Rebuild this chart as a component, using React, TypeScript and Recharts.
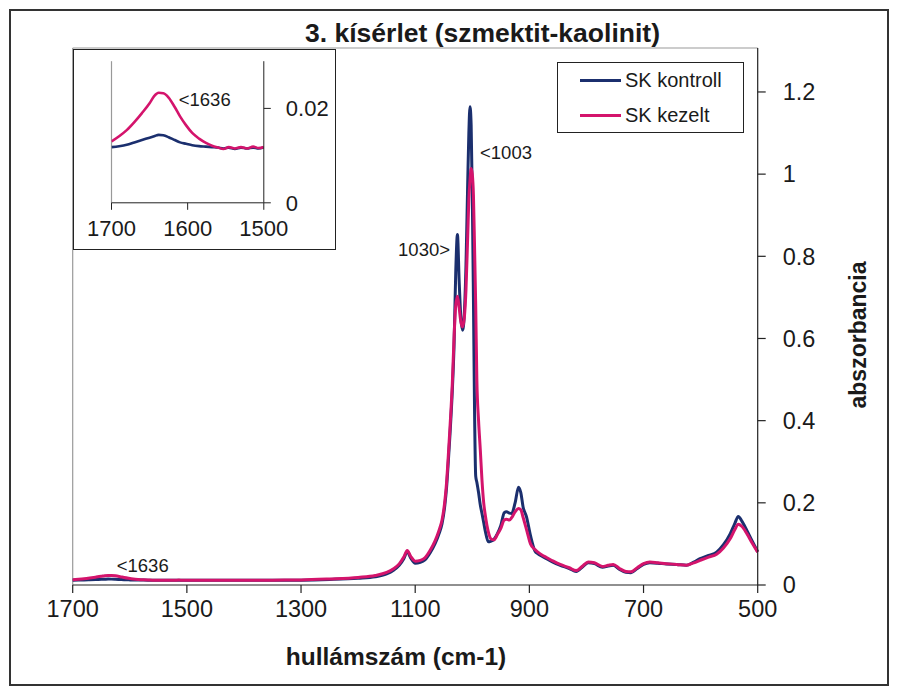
import React from "react";
import {
  LineChart,
  Line,
  XAxis,
  YAxis,
  Legend,
  ReferenceLine,
  ReferenceDot,
} from "recharts";

// hullámszám (cm-1), csökkenő sorrendben
const wavenumbers = [
  1700, 1690, 1680, 1670, 1660, 1650, 1644, 1638, 1632, 1625, 1617, 1610, 1602,
  1594, 1585, 1576, 1568, 1560, 1553, 1546, 1538, 1530, 1522, 1514, 1507, 1500,
  1450, 1400, 1350, 1300, 1250, 1200, 1170, 1150, 1138, 1128, 1120, 1114, 1108,
  1100, 1091, 1083, 1074, 1065, 1058, 1053, 1048, 1045, 1042, 1039, 1035, 1032,
  1029, 1026, 1023, 1020, 1017, 1014, 1011, 1008, 1006, 1004, 1002, 1000, 998,
  996, 994, 992, 989, 986, 983, 980, 977, 972, 967, 962, 956, 950, 944, 940,
  935, 931, 925, 919, 915, 911, 905, 898, 890, 885, 878, 870, 858, 846, 830,
  818, 806, 797, 786, 772, 762, 753, 742, 731, 722, 711, 700, 689, 675, 660,
  642, 625, 612, 601, 586, 572, 560, 548, 540, 534, 528, 519, 510, 500,
];

// SK kontroll
const kontroll = [
  0.0118, 0.012, 0.0123, 0.0128, 0.0133, 0.0138, 0.0141, 0.0144, 0.0143, 0.0139,
  0.0133, 0.0128, 0.0125, 0.0122, 0.012, 0.0119, 0.0118, 0.0117, 0.0115, 0.0117,
  0.0114, 0.0117, 0.0115, 0.0117, 0.0115, 0.0117, 0.0115, 0.0113, 0.0114,
  0.0118, 0.0135, 0.0165, 0.02, 0.027, 0.036, 0.048, 0.064, 0.081, 0.066, 0.053,
  0.055, 0.061, 0.078, 0.101, 0.126, 0.149, 0.195, 0.238, 0.3, 0.368, 0.473,
  0.58, 0.76, 0.853, 0.74, 0.65, 0.62, 0.66, 0.78, 0.98, 1.1, 1.164, 1.12, 0.95,
  0.7, 0.42, 0.265, 0.25, 0.225, 0.195, 0.174, 0.152, 0.13, 0.105, 0.107, 0.111,
  0.125, 0.145, 0.176, 0.178, 0.175, 0.174, 0.2, 0.238, 0.225, 0.19, 0.166,
  0.12, 0.082, 0.076, 0.07, 0.064, 0.055, 0.048, 0.04, 0.033, 0.045, 0.054,
  0.052, 0.043, 0.046, 0.048, 0.038, 0.031, 0.03, 0.04, 0.05, 0.054, 0.053,
  0.051, 0.05, 0.048, 0.056, 0.064, 0.072, 0.08, 0.098, 0.125, 0.15, 0.167,
  0.156, 0.133, 0.108, 0.081,
];

// SK kezelt
const kezelt = [
  0.013, 0.0141, 0.0154, 0.0171, 0.019, 0.0211, 0.0226, 0.0233, 0.0232, 0.0223,
  0.0203, 0.0183, 0.0164, 0.0148, 0.0136, 0.0127, 0.0121, 0.0117, 0.0114,
  0.0118, 0.0115, 0.0118, 0.0115, 0.0119, 0.0116, 0.0118, 0.0117, 0.0116,
  0.0118, 0.0123, 0.0148, 0.0185, 0.023, 0.0305, 0.0395, 0.0515, 0.068, 0.084,
  0.07, 0.058, 0.06, 0.066, 0.084, 0.108, 0.134, 0.158, 0.205, 0.25, 0.315,
  0.385, 0.49, 0.6, 0.68, 0.703, 0.675, 0.64, 0.628, 0.65, 0.72, 0.85, 0.94,
  0.985, 1.014, 1.0, 0.95, 0.82, 0.68, 0.5, 0.4, 0.33, 0.255, 0.2, 0.168, 0.13,
  0.112, 0.11, 0.123, 0.138, 0.158, 0.16, 0.158, 0.164, 0.178, 0.186, 0.183,
  0.165, 0.135, 0.1, 0.086, 0.08, 0.073, 0.067, 0.058, 0.05, 0.042, 0.035,
  0.047, 0.056, 0.054, 0.045, 0.048, 0.05, 0.04, 0.033, 0.032, 0.042, 0.052,
  0.056, 0.054, 0.052, 0.05, 0.048, 0.054, 0.06, 0.068, 0.075, 0.09, 0.113,
  0.135, 0.148, 0.143, 0.125, 0.103, 0.08,
];

const seriesNames = ["SK kontroll", "SK kezelt"];
const xTicks = [1700, 1500, 1300, 1100, 900, 700, 500];
const yTicks = [0, 0.2, 0.4, 0.6, 0.8, 1, 1.2];
const insetXTicks = [1700, 1600, 1500];
const insetYTicks = [0, 0.02];

const data = wavenumbers.map((wn, i) => ({
  wn,
  kontroll: kontroll[i],
  kezelt: kezelt[i],
}));
const insetData = data.filter((d) => d.wn >= 1500);

const BLUE = "#1b2f6e";
const PINK = "#d4146c";
const FONT = '"Liberation Sans", Arial, sans-serif';
const TXT = "#1a1a1a";

const annot =
  (text: string, dx: number, dy: number, anchor: "start" | "end") =>
  (props: any) => {
    const vb = props.viewBox || {};
    const cx = vb.x + (vb.width || 0) / 2;
    const cy = vb.y + (vb.height || 0) / 2;
    return (
      <text
        x={cx + dx}
        y={cy + dy}
        textAnchor={anchor}
        dominantBaseline="central"
        fontSize={18.5}
        fontFamily={FONT}
        fill={TXT}
      >
        {text}
      </text>
    );
  };

const LegendBox = ({ payload }: any) => {
  // keep the series order (kontroll first), not alphabetical
  const items = [...(payload || [])].sort(
    (a: any, b: any) => seriesNames.indexOf(a.value) - seriesNames.indexOf(b.value)
  );
  return (
    <div
      style={{
        width: 187,
        height: 71,
        boxSizing: "border-box",
        border: "1.5px solid #222",
        background: "#fff",
        fontFamily: FONT,
        fontSize: 20,
        color: TXT,
        paddingTop: 0,
      }}
    >
      {items.map((p: any) => (
        <div
          key={p.value}
          style={{ display: "flex", alignItems: "center", height: 35 }}
        >
          <div
            style={{
              marginLeft: 22,
              width: 41,
              height: 2.5,
              background: p.color,
            }}
          />
          <span style={{ marginLeft: 4 }}>{p.value}</span>
        </div>
      ))}
    </div>
  );
};

const Inset = () => (
  <div
    style={{
      position: "absolute",
      left: 72.7,
      top: 49,
      width: 263,
      height: 201,
      boxSizing: "border-box",
      border: "1.5px solid #222",
      background: "#fff",
    }}
  >
    <LineChart
      width={260}
      height={198}
      data={insetData}
      margin={{ top: 11.2, left: 37.5, right: 10.2, bottom: 10.2 }}
    >
      <XAxis
        dataKey="wn"
        type="number"
        domain={[1500, 1700]}
        reversed
        ticks={insetXTicks}
        interval={0}
        allowDataOverflow
        height={35}
        tickSize={7}
        tickMargin={11}
        axisLine={{ stroke: "#222" }}
        tickLine={{ stroke: "#222" }}
        tick={{ fontSize: 22, fill: TXT, fontFamily: FONT }}
      />
      <YAxis
        orientation="right"
        domain={[0, 0.03]}
        ticks={insetYTicks}
        interval={0}
        allowDataOverflow
        width={60}
        tickSize={7}
        tickMargin={15}
        axisLine={{ stroke: "#222" }}
        tickLine={{ stroke: "#222" }}
        tick={{ fontSize: 22, fill: TXT, fontFamily: FONT, textAnchor: "start" }}
      />
      <ReferenceLine x={1700} stroke="#999" strokeWidth={1.2} />
      <Line
        type="monotone"
        dataKey="kontroll"
        stroke={BLUE}
        strokeWidth={2.6}
        dot={false}
        activeDot={false}
        isAnimationActive={false}
      />
      <Line
        type="monotone"
        dataKey="kezelt"
        stroke={PINK}
        strokeWidth={2.6}
        dot={false}
        activeDot={false}
        isAnimationActive={false}
      />
      <ReferenceDot
        x={1636}
        y={0.0233}
        r={0}
        fill="none"
        stroke="none"
        label={annot("<1636", 18.5, 6.7, "start")}
      />
    </LineChart>
  </div>
);

export default function App() {
  return (
    <div
      style={{
        position: "absolute",
        left: 0,
        top: 0,
        width: 899,
        height: 695,
        background: "#fff",
        fontFamily: FONT,
      }}
    >
      <div
        style={{
          position: "absolute",
          left: 9,
          top: 9,
          width: 880,
          height: 677,
          boxSizing: "border-box",
          border: "2px solid #333",
        }}
      />
      <div style={{ position: "absolute", left: 0, top: 0 }}>
        <LineChart
          width={899}
          height={695}
          data={data}
          margin={{ top: 48, left: 72.7, right: 41.3, bottom: 70 }}
        >
          <XAxis
            dataKey="wn"
            type="number"
            domain={[500, 1700]}
            reversed
            ticks={xTicks}
            interval={0}
            height={40}
            tickSize={8}
            tickMargin={7}
            axisLine={{ stroke: "#222", strokeWidth: 1.2 }}
            tickLine={{ stroke: "#222", strokeWidth: 1.2 }}
            tick={{ fontSize: 23.5, fill: TXT, fontFamily: FONT }}
          />
          <YAxis
            orientation="right"
            domain={[0, 1.307]}
            ticks={yTicks}
            interval={0}
            width={100}
            tickSize={8}
            tickMargin={17}
            axisLine={{ stroke: "#222", strokeWidth: 1.2 }}
            tickLine={{ stroke: "#222", strokeWidth: 1.2 }}
            tick={{
              fontSize: 23.5,
              fill: TXT,
              fontFamily: FONT,
              textAnchor: "start",
            }}
          />
          <ReferenceLine x={1700} stroke="#999" strokeWidth={1.2} />
          <ReferenceLine y={1.307} stroke="#999" strokeWidth={1.2} />
          <Legend
            layout="vertical"
            align="center"
            verticalAlign="middle"
            content={<LegendBox />}
            wrapperStyle={{
              position: "absolute",
              left: 557,
              top: 62,
              width: 187,
              height: 71,
            }}
          />
          <Line
            type="monotone"
            dataKey="kontroll"
            name="SK kontroll"
            stroke={BLUE}
            strokeWidth={3}
            dot={false}
            activeDot={false}
            isAnimationActive={false}
          />
          <Line
            type="monotone"
            dataKey="kezelt"
            name="SK kezelt"
            stroke={PINK}
            strokeWidth={3}
            dot={false}
            activeDot={false}
            isAnimationActive={false}
          />
          <ReferenceDot
            x={1636}
            y={0.0233}
            r={0}
            fill="none"
            stroke="none"
            label={annot("<1636", 7.5, -9.5, "start")}
          />
          <ReferenceDot
            x={1026}
            y={0.853}
            r={0}
            fill="none"
            stroke="none"
            label={annot("1030>", -7.4, 14.5, "end")}
          />
          <ReferenceDot
            x={1004}
            y={1.164}
            r={0}
            fill="none"
            stroke="none"
            label={annot("<1003", 10, 46, "start")}
          />
        </LineChart>
      </div>
      <Inset />
      <div
        style={{
          position: "absolute",
          left: 482.5,
          top: 33,
          transform: "translate(-50%, -50%)",
          fontSize: 26.5,
          fontWeight: "bold",
          color: TXT,
          whiteSpace: "nowrap",
        }}
      >
        3. kísérlet (szmektit-kaolinit)
      </div>
      <div
        style={{
          position: "absolute",
          left: 396,
          top: 657,
          transform: "translate(-50%, -50%)",
          fontSize: 24.5,
          fontWeight: "bold",
          color: TXT,
          whiteSpace: "nowrap",
        }}
      >
        hullámszám (cm-1)
      </div>
      <div
        style={{
          position: "absolute",
          left: 858,
          top: 335,
          transform: "translate(-50%, -50%) rotate(-90deg)",
          fontSize: 23,
          fontWeight: "bold",
          color: TXT,
          whiteSpace: "nowrap",
        }}
      >
        abszorbancia
      </div>
    </div>
  );
}
